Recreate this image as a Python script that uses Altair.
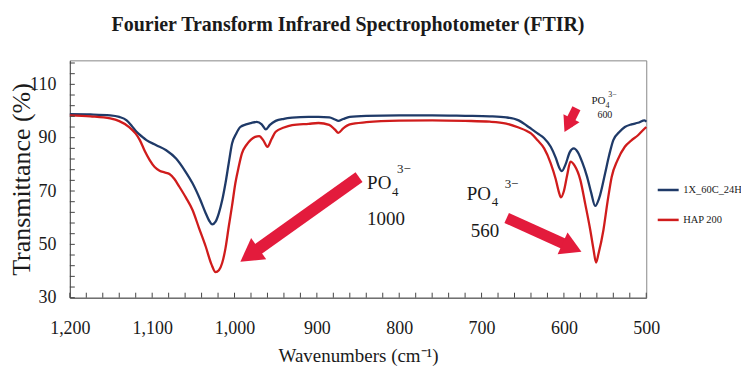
import math
import altair as alt
import pandas as pd

# ---------------- data ----------------
series_names = ["1X_60C_24H", "HAP 200"]

wn_blue = [1200, 1175, 1151, 1140, 1131, 1125, 1119, 1112, 1107, 1095, 1083, 1071, 1060,
           1051, 1042, 1035, 1030, 1027, 1023, 1019, 1015, 1011, 1007, 1003, 998, 993, 986,
           980, 973, 967, 962, 957, 950, 940, 930, 910, 898, 885, 878, 874, 868, 860, 840,
           800, 760, 720, 690, 670, 655, 645, 640, 632, 624, 616, 610, 606, 602.5, 598, 593,
           588, 583, 578, 572, 567, 562, 557, 550, 545, 540, 533, 526, 518, 510, 502, 500]
t_blue = [98.8, 98.7, 98.4, 97.8, 96.5, 94.5, 92.2, 90.3, 89.1, 87.2, 85.3, 82.2, 77.5,
          72.9, 67.0, 61.7, 58.5, 57.5, 58.5, 61.7, 66.5, 72.9, 80.5, 87.8, 91.5, 94.0, 95.0,
          95.5, 95.9, 95.0, 93.1, 94.8, 96.3, 97.1, 97.5, 97.8, 97.8, 97.6, 96.8, 96.3, 97.0,
          97.8, 98.2, 98.4, 98.4, 98.2, 98.0, 97.6, 96.5, 94.5, 93.4, 91.6, 89.8, 86.6, 82.5,
          79.0, 77.5, 80.0, 84.5, 86.0, 84.5, 81.0, 75.5, 69.5, 64.4, 67.5, 76.6, 83.5, 89.1,
          92.0, 94.0, 95.0, 95.6, 96.5, 96.0]

wn_red = [1200, 1175, 1151, 1140, 1128, 1120, 1115, 1109, 1103, 1097, 1091, 1085, 1079,
          1073, 1067, 1059, 1051, 1043, 1035, 1028, 1023, 1019, 1015, 1011, 1007, 1003, 999,
          995, 991, 985, 980, 975, 970, 965, 960, 955, 950, 940, 930, 910, 898, 885, 878, 874,
          868, 860, 840, 800, 760, 720, 690, 670, 655, 645, 640, 632, 624, 616, 610, 606,
          603.6, 600, 596, 592, 587, 580, 574, 568, 564, 561, 558, 552, 547, 542, 535, 526,
          518, 510, 505, 500]
t_red = [98.4, 98.0, 97.2, 96.2, 94.0, 91.5, 89.1, 85.0, 81.6, 79.0, 77.6, 77.0, 76.4,
         74.5, 71.6, 67.5, 62.9, 56.0, 49.2, 42.5, 39.6, 40.3, 43.0, 48.5, 56.7, 64.5, 72.9,
         79.0, 84.1, 87.5, 89.3, 90.3, 90.6, 89.0, 86.6, 89.5, 92.2, 93.8, 94.7, 95.2, 95.5,
         94.8, 93.0, 91.8, 93.5, 95.0, 95.8, 96.4, 96.5, 96.3, 96.0, 95.3, 93.8, 92.5, 91.6,
         89.0, 86.0, 80.4, 74.5, 69.5, 67.6, 70.0, 76.0, 81.0, 79.5, 74.1, 65.0, 55.4, 48.0,
         43.2, 46.5, 55.4, 66.0, 75.3, 81.5, 86.6, 89.0, 90.9, 92.5, 94.0]

x_labels = [1200, 1100, 1000, 900, 800, 700, 600, 500]
y_labels = [30, 50, 70, 90, 110]
x_minor = list(range(500, 1201, 20))
y_minor = list(range(30, 119, 4))

# annotations (data coordinates)
ann_numbers = ["1000", "560", "600"]
ann_anchor_wn = [839, 718, 566.6]
ann_anchor_t = [70.8, 66.6, 102.5]

arrow_tail_wn = [848.8, 669.5, 584.8]
arrow_tail_t = [75.2, 59.9, 101.0]
arrow_tip_wn = [992.9, 578.7, 599.3]
arrow_tip_t = [43.5, 47.2, 92.1]

# ---------------- layout / style ----------------
W, H = 578, 238
X_MIN, X_MAX = 500, 1200
Y_MIN, Y_MAX = 30, 119
kx = W / (X_MAX - X_MIN)
ky = H / (Y_MAX - Y_MIN)

SERIF = "Liberation Serif"
BLUE = "#1f3a68"
RED = "#d01c1c"
ARROW = "#e31b3c"
TXT = "#1a1a1a"

xscale = alt.Scale(domain=[X_MIN, X_MAX], reverse=True, nice=False, zero=False)
yscale = alt.Scale(domain=[Y_MIN, Y_MAX], nice=False, zero=False)

x_axis = alt.Axis(values=x_labels, labelExpr="format(datum.value, ',')",
                  labelPadding=22, labelFlush=False,
                  labelFont=SERIF, labelFontSize=18, labelColor=TXT,
                  title="Wavenumbers (cm⁻¹)", titleFontSize=19,
                  titleFont=SERIF, titleFontWeight="normal", titleColor=TXT,
                  titleX=W / 2, titleY=58, titleBaseline="middle")
y_axis = alt.Axis(values=y_labels, labelPadding=14,
                  labelFont=SERIF, labelFontSize=18, labelColor=TXT,
                  title="Transmittance (%)", titleFontSize=26,
                  titleFont=SERIF, titleFontWeight="normal", titleColor=TXT,
                  titleX=-48, titleY=H / 2, titleBaseline="middle", titleAlign="center")


def X(f):
    return alt.X(f, scale=xscale, axis=x_axis)


def Y(f):
    return alt.Y(f, scale=yscale, axis=y_axis)


rows = []
for name, wns, ts in [(series_names[0], wn_blue, t_blue), (series_names[1], wn_red, t_red)]:
    for i, (w, t) in enumerate(zip(wns, ts)):
        rows.append({"wn": w, "T": t, "series": name, "i": i})
df = pd.DataFrame(rows)

lines = alt.Chart(df).mark_line(strokeWidth=2.3, interpolate="monotone").encode(
    x=X("wn:Q"),
    y=Y("T:Q"),
    color=alt.Color("series:N",
                    scale=alt.Scale(domain=series_names, range=[BLUE, RED]),
                    legend=alt.Legend(title=None, orient="none", legendX=588, legendY=118,
                                      symbolType="stroke", symbolSize=441, symbolStrokeWidth=2.5,
                                      labelFont=SERIF, labelFontSize=10.5, labelColor=TXT,
                                      rowPadding=12, labelOffset=3, padding=0, labelLimit=300)),
    order="i:Q",
)

# inward minor ticks
xt = alt.Chart(pd.DataFrame({"v": x_minor})).mark_rule(color="#444", strokeWidth=1).encode(
    x=X("v:Q"), y=alt.value(H), y2=alt.value(H - 5))
yt = alt.Chart(pd.DataFrame({"v": y_minor})).mark_rule(color="#444", strokeWidth=1).encode(
    y=Y("v:Q"), x=alt.value(0), x2=alt.value(5))

# arrows
head_r = [13, 12, 9]
shaft_w = [12, 11, 9]
arows, hrows = [], []
for k in range(3):
    dxp = -(arrow_tip_wn[k] - arrow_tail_wn[k]) * kx
    dyp = -(arrow_tip_t[k] - arrow_tail_t[k]) * ky
    L = math.hypot(dxp, dyp)
    ux, uy = dxp / L, dyp / L
    h = 0.866 * head_r[k]
    cx_wn = arrow_tip_wn[k] + (h * ux) / kx
    cy_t = arrow_tip_t[k] + (h * uy) / ky
    ang = math.degrees(math.atan2(ux, -uy)) % 360
    arows.append({"x": arrow_tail_wn[k], "y": arrow_tail_t[k], "x2": cx_wn, "y2": cy_t,
                  "w": shaft_w[k]})
    hrows.append({"x": cx_wn, "y": cy_t, "s": (2 * head_r[k]) ** 2, "a": ang})

shafts = alt.Chart(pd.DataFrame(arows)).mark_rule(color=ARROW, strokeCap="butt").encode(
    x=X("x:Q"), y=Y("y:Q"), x2="x2:Q", y2="y2:Q",
    strokeWidth=alt.StrokeWidth("w:Q", scale=None))
heads = alt.Chart(pd.DataFrame(hrows)).mark_point(
    shape="triangle-up", filled=True, color=ARROW, opacity=1, strokeWidth=0).encode(
    x=X("x:Q"), y=Y("y:Q"),
    size=alt.Size("s:Q", scale=None),
    angle=alt.Angle("a:Q", scale=None))

# annotation text pieces: (text, size, dx_px, dy_px)
big = [19, 19, 11]
small = [13, 13, 8]
offs = [
    {"sub": (25, 7), "sup": (30, -16), "num": (0, 36)},
    {"sub": (25, 6), "sup": (38, -12), "num": (4, 37)},
    {"sub": (14, 4), "sup": (17, -7), "num": (6, 14)},
]
trows = []
for k in range(3):
    pieces = [("PO", big[k], (0, 0)), ("4", small[k], offs[k]["sub"]),
              ("3−", small[k], offs[k]["sup"]),
              (ann_numbers[k], big[k] if k < 2 else 10, offs[k]["num"])]
    for txt, sz, (dx, dy) in pieces:
        trows.append({"x": ann_anchor_wn[k] - dx / kx, "y": ann_anchor_t[k] - dy / ky,
                      "t": txt, "s": sz})
texts = alt.Chart(pd.DataFrame(trows)).mark_text(
    align="left", baseline="alphabetic", font=SERIF, color=TXT).encode(
    x=X("x:Q"), y=Y("y:Q"),
    text="t:N", size=alt.Size("s:Q", scale=None))

chart = alt.layer(lines, xt, yt, shafts, heads, texts).properties(
    width=W, height=H,
    padding={"left": 62, "top": 52, "right": 95, "bottom": 69},
    autosize=alt.AutoSizeParams(type="none"),
    background="white",
    title=alt.TitleParams("Fourier Transform Infrared Spectrophotometer (FTIR)",
                          font=SERIF, fontSize=20, fontWeight="bold", color=TXT,
                          anchor="middle", dx=-10, offset=9, baseline="alphabetic"),
).configure_axis(
    labelFont=SERIF, labelFontSize=18, labelColor=TXT,
    titleFont=SERIF, titleFontWeight="normal", titleColor=TXT,
    grid=False, ticks=False, tickSize=0, domainColor="#555"
).configure_legend(
    labelFont=SERIF, labelFontSize=10.5, labelColor=TXT, labelLimit=300
).configure_view(
    stroke="#888", strokeWidth=1
)

chart.save("out.html", embed_options={"renderer": "svg", "actions": False})
